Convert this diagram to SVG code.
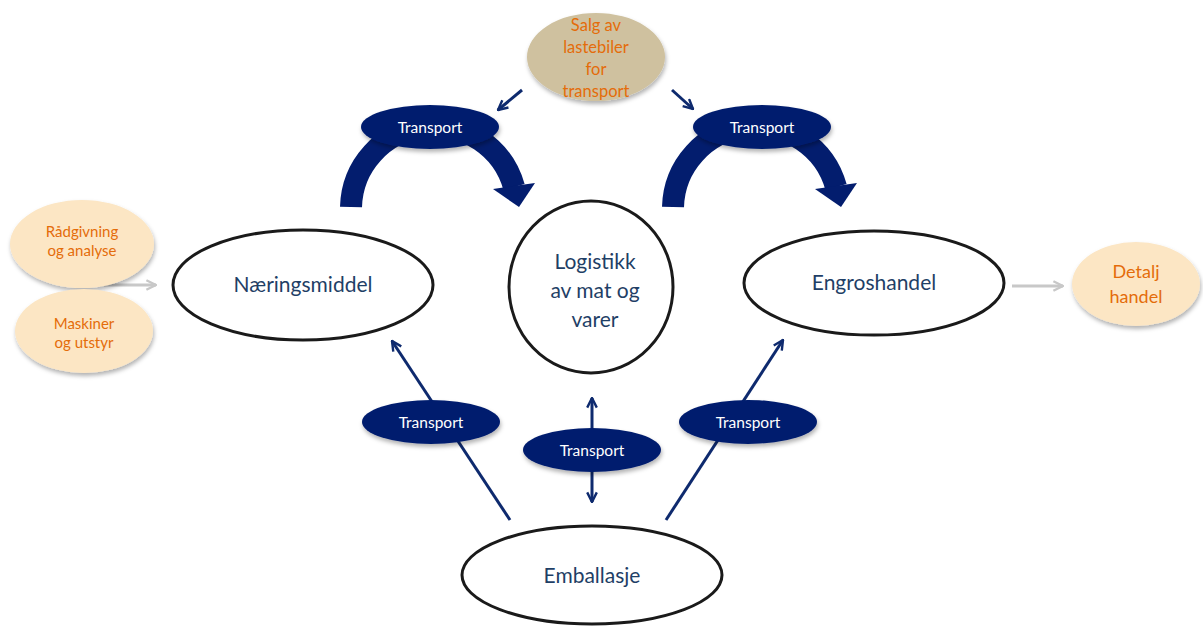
<svg xmlns="http://www.w3.org/2000/svg" width="1203" height="626" viewBox="0 0 1203 626">
<defs>
<filter id="sh" x="-20%" y="-20%" width="140%" height="150%"><feDropShadow dx="1" dy="3" stdDeviation="2" flood-color="#000" flood-opacity="0.3"/></filter>
<marker id="ah" viewBox="0 0 10 10" refX="9" refY="5" markerWidth="4" markerHeight="4" orient="auto-start-reverse" markerUnits="strokeWidth"><path d="M1,1 L9,5 L1,9" fill="none" stroke="#0e2a6e" stroke-width="2"/></marker>
<marker id="ag" viewBox="0 0 10 10" refX="9" refY="5" markerWidth="4" markerHeight="4" orient="auto" markerUnits="strokeWidth"><path d="M1,1 L9,5 L1,9" fill="none" stroke="#c8c8c8" stroke-width="2"/></marker>
<style>
.main{fill:#fff;stroke:#1a1a1a;stroke-width:3}
.tr{fill:#031d6e;filter:url(#sh)}
.pe{fill:#fce6c4;filter:url(#sh)}
.tan{fill:#cfc19f;filter:url(#sh)}
.mt{font-family:Lato,"Liberation Sans",sans-serif;font-size:21px;fill:#1f3f66;text-anchor:middle}
.tt{font-family:Lato,"Liberation Sans",sans-serif;font-size:15.5px;fill:#fff;text-anchor:middle}
.ot{font-family:Lato,"Liberation Sans",sans-serif;fill:#e46c0a;text-anchor:middle}
.ln{fill:none;stroke:#0e2a6e;stroke-width:3;marker-end:url(#ah)}
.gl{fill:none;stroke:#c8c8c8;stroke-width:3;marker-end:url(#ag)}
.big{fill:none;stroke:#031d6e;stroke-width:22}
</style>
</defs>
<g id="connectors">
<path class="big" d="M351,207 A83,83 0 0 1 514,187"/>
<polygon points="493,189 535,183 519,207" fill="#031d6e"/>
<path class="big" d="M673,207 A83,83 0 0 1 836,187"/>
<polygon points="815,189 857,183 841,207" fill="#031d6e"/>
<path class="ln" d="M522,90 L498,110"/>
<path class="ln" d="M672,90 L693,109"/>
<path class="ln" d="M510,520 L392,341"/>
<path class="ln" d="M666,520 L783,340"/>
<path class="ln" d="M592,502 L592,398" marker-start="url(#ah)"/>
<path class="gl" d="M100,285 L156,285"/>
<path class="gl" d="M1012,286 L1063,286"/>
</g>
<g id="salg"><ellipse class="tan" cx="596" cy="57" rx="69" ry="44"/>
<text class="ot" font-size="16.5" x="596" y="31">Salg av</text><text class="ot" font-size="16.5" x="596" y="53">lastebiler</text><text class="ot" font-size="16.5" x="596" y="75">for</text><text class="ot" font-size="16.5" x="596" y="97">transport</text></g>
<g id="transport1"><ellipse class="tr" cx="430" cy="127" rx="69" ry="22"/><text class="tt" x="430" y="133">Transport</text></g>
<g id="transport2"><ellipse class="tr" cx="762" cy="127" rx="69" ry="22"/><text class="tt" x="762" y="133">Transport</text></g>
<g id="radgivning"><ellipse class="pe" cx="82" cy="244" rx="72" ry="44"/>
<text class="ot" font-size="15" x="82" y="237">Rådgivning</text><text class="ot" font-size="15" x="82" y="256">og analyse</text></g>
<g id="maskiner"><ellipse class="pe" cx="84" cy="331" rx="69" ry="42"/>
<text class="ot" font-size="15" x="84" y="329">Maskiner</text><text class="ot" font-size="15" x="84" y="348">og utstyr</text></g>
<g id="naeringsmiddel"><ellipse class="main" cx="303" cy="285" rx="130" ry="55"/><text class="mt" x="303" y="292">Næringsmiddel</text></g>
<g id="logistikk"><ellipse class="main" cx="591" cy="287" rx="82" ry="86"/>
<text class="mt" x="595" y="269">Logistikk</text><text class="mt" x="595" y="298">av mat og</text><text class="mt" x="595" y="327">varer</text></g>
<g id="engroshandel"><ellipse class="main" cx="874" cy="283" rx="130" ry="52"/><text class="mt" x="874" y="290">Engroshandel</text></g>
<g id="detalj"><ellipse class="pe" cx="1136" cy="284" rx="64" ry="42"/>
<text class="ot" font-size="18" x="1136" y="278">Detalj</text><text class="ot" font-size="18" x="1136" y="303">handel</text></g>
<g id="transport3"><ellipse class="tr" cx="431" cy="422" rx="69" ry="22"/><text class="tt" x="431" y="428">Transport</text></g>
<g id="transport4"><ellipse class="tr" cx="592" cy="450" rx="69" ry="22"/><text class="tt" x="592" y="456">Transport</text></g>
<g id="transport5"><ellipse class="tr" cx="748" cy="422" rx="69" ry="22"/><text class="tt" x="748" y="428">Transport</text></g>
<g id="emballasje"><ellipse class="main" cx="592" cy="575" rx="130" ry="49"/><text class="mt" x="592" y="583">Emballasje</text></g>
</svg>
